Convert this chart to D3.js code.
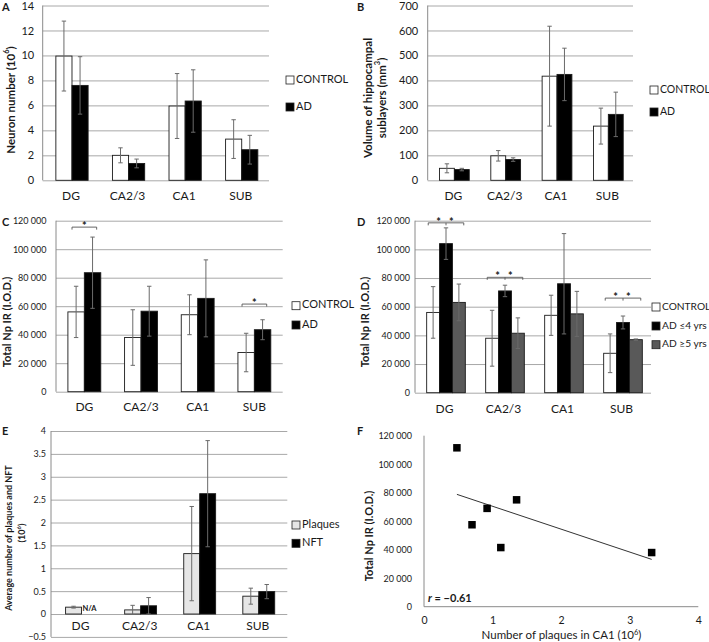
<!DOCTYPE html>
<html><head><meta charset="utf-8">
<script src="https://cdn.jsdelivr.net/npm/d3@7"></script>
<style>
body{margin:0;background:#fff}
text{font-family:Lato,"Open Sans","Liberation Sans",sans-serif;fill:#1a1a1a}
</style>
</head><body>
<svg id="chart" width="709" height="642"></svg>
<script>
// ---------- DATA ----------
const categories = ["DG", "CA2/3", "CA1", "SUB"];

// Panel A: neuron number (10^6)
const neuronTicks = [0, 2, 4, 6, 8, 10, 12, 14];
const neuronControl = [9.95, 2.0, 5.95, 3.3];
const neuronControlErr = [2.8, 0.6, 2.6, 1.55];
const neuronAD = [7.6, 1.35, 6.35, 2.45];
const neuronADErr = [2.3, 0.35, 2.5, 1.15];

// Panel B: volume (mm^3)
const volumeTicks = [0, 100, 200, 300, 400, 500, 600, 700];
const volumeControl = [48, 98, 417, 217];
const volumeControlErr = [18, 21, 200, 72];
const volumeAD = [43, 83, 424, 264];
const volumeADErr = [5, 7, 105, 89];

// Panel C: total Np IR
const npTicks = [0, 20000, 40000, 60000, 80000, 100000, 120000];
const npControl = [56000, 38000, 54000, 27500];
const npControlErr = [18000, 19500, 14000, 13500];
const npAD = [83500, 56500, 65500, 43500];
const npADErr = [25000, 17500, 27000, 7000];
const sigC = [{cat: "DG", level: 115500}, {cat: "SUB", level: 61500}];

// Panel D: AD split by duration
const npAD4 = [104000, 71000, 76000, 49000];
const npAD4Err = [11000, 4000, 35000, 4500];
const npAD5 = [63000, 41500, 55000, 37000];
const npAD5Err = [12800, 10700, 15700, 500];
const sigD = [{cat: "DG", level: 118500}, {cat: "CA2/3", level: 80500}, {cat: "SUB", level: 66000}];

// Panel E: plaques and NFT (10^6)
const lesionTicks = [-0.5, 0, 0.5, 1, 1.5, 2, 2.5, 3, 3.5, 4];
const plaques = [0.15, 0.09, 1.32, 0.39];
const plaquesErr = [0.02, 0.1, 1.03, 0.175];
const nft = [null, 0.18, 2.63, 0.49];
const nftErr = [null, 0.18, 1.16, 0.155];

// Panel F: scatter
const plaquesCA1 = [0.48, 0.70, 0.92, 1.12, 1.35, 3.32];
const npCA1 = [111500, 57500, 69000, 41500, 75000, 38000];
const fXTicks = [0, 1, 2, 3, 4];
const rLabel = "−0.61";

// ---------- DRAWING ----------
const svg = d3.select("#chart");
svg.append("rect").attr("width", 709).attr("height", 642).attr("fill", "#fff");
const gridColor = "#a8a8a8";
const axisColor = "#8a8a8a";
const errColor = "#6a6a6a";
const spaceFmt = d => d3.format(",")(d).replace(/,/g, " ");

function rotatedTitle(g, x, y, size, parts) {
  const t = g.append("text").attr("transform", `translate(${x},${y}) rotate(-90)`)
    .attr("text-anchor", "middle").attr("font-weight", "bold").attr("font-size", size)
    .attr("dominant-baseline", "middle");
  parts.forEach(p => {
    const ts = t.append("tspan").text(p.t);
    if (p.sup) ts.attr("baseline-shift", "super").attr("font-size", size * 0.65);
  });
  return t;
}

function legend(g, x, ys, items, size) {
  items.forEach((it, i) => {
    g.append("rect").attr("x", x).attr("y", ys[i] - 4).attr("width", 8).attr("height", 8)
      .attr("fill", it.fill).attr("stroke", "#222").attr("stroke-width", 0.8);
    g.append("text").attr("x", x + 10).attr("y", ys[i]).attr("dominant-baseline", "middle")
      .attr("font-size", size).text(it.name);
  });
}

function letter(x, y, t) {
  svg.append("text").attr("x", x).attr("y", y).attr("font-weight", "bold").attr("font-size", 11).text(t);
}

function barPanel(cfg) {
  const g = svg.append("g");
  const y = d3.scaleLinear().domain(cfg.yDomain).range([cfg.bottom, cfg.top]);
  const x = d3.scaleBand().domain(categories).range([cfg.left, cfg.right]);
  const groupW = x.bandwidth() * cfg.groupFrac;
  const xs = d3.scaleBand().domain(d3.range(cfg.series.length)).range([0, groupW]);
  const barX = (cat, si) => x(cat) + (x.bandwidth() - groupW) / 2 + xs(si) + cfg.shift;

  const ga = g.append("g").attr("transform", `translate(${cfg.left},0)`)
    .call(d3.axisLeft(y).tickValues(cfg.yTicks).tickSize(-(cfg.right - cfg.left))
      .tickPadding(cfg.tickPad).tickFormat(cfg.fmt || (d => d)));
  ga.select(".domain").remove();
  ga.attr("font-family", null);
  ga.selectAll(".tick line").attr("stroke", gridColor).attr("stroke-width", 1);
  ga.selectAll(".tick text").attr("font-size", cfg.tickFont);
  g.append("line").attr("x1", cfg.left).attr("x2", cfg.left).attr("y1", cfg.top).attr("y2", cfg.bottom)
    .attr("stroke", axisColor);

  cfg.series.forEach((s, si) => {
    categories.forEach((cat, i) => {
      const v = s.values[i];
      if (v === null) return;
      g.append("rect").attr("x", barX(cat, si)).attr("width", xs.bandwidth())
        .attr("y", y(Math.max(v, 0))).attr("height", Math.abs(y(v) - y(0)))
        .attr("fill", s.fill).attr("stroke", "#1a1a1a").attr("stroke-width", 0.9);
    });
  });
  cfg.series.forEach((s, si) => {
    categories.forEach((cat, i) => {
      const v = s.values[i], e = s.errs[i];
      if (v === null) return;
      const cx = barX(cat, si) + xs.bandwidth() / 2;
      const eg = g.append("g").attr("stroke", errColor).attr("stroke-width", 1);
      eg.append("line").attr("x1", cx).attr("x2", cx).attr("y1", y(v - e)).attr("y2", y(v + e));
      [v - e, v + e].forEach(w => eg.append("line").attr("x1", cx - 2.2).attr("x2", cx + 2.2)
        .attr("y1", y(w)).attr("y2", y(w)));
    });
  });

  const gx = g.append("g").attr("transform", `translate(0,${y(0)})`)
    .call(d3.axisBottom(x).tickSize(0).tickPadding(cfg.catPad));
  gx.select(".domain").remove();
  gx.attr("font-family", null);
  gx.selectAll(".tick text").attr("font-size", cfg.catFont);

  // significance brackets
  (cfg.sig || []).forEach(b => {
    const n = cfg.series.length, bw = xs.bandwidth();
    const x1 = barX(b.cat, 0) + bw * cfg.sigInset, x2 = barX(b.cat, n - 1) + bw * (1 - cfg.sigInset);
    const yy = y(b.level);
    const bg = g.append("g").attr("stroke", "#555").attr("stroke-width", 0.9).attr("fill", "none");
    bg.append("path").attr("d", `M${x1},${yy + 2.5}V${yy}H${x2}V${yy + 2.5}`);
    if (n === 2) {
      g.append("text").attr("x", (x1 + x2) / 2).attr("y", yy + 3).attr("text-anchor", "middle")
        .attr("font-size", 11).attr("font-weight", "bold").text("*");
    } else {
      const mid = barX(b.cat, 1) + bw / 2;
      bg.append("line").attr("x1", mid).attr("x2", mid).attr("y1", yy).attr("y2", yy + 2.5);
      [barX(b.cat, 1), barX(b.cat, 2)].forEach(sx =>
        g.append("text").attr("x", sx - 1).attr("y", yy + 3).attr("text-anchor", "middle")
          .attr("font-size", 11).attr("font-weight", "bold").text("*"));
    }
  });
  return {g, x, y, xs, barX};
}

// Panel A
letter(2, 11, "A");
const pA = barPanel({
  left: 42.7, right: 269, top: 5.5, bottom: 180.3, yDomain: [0, 14], yTicks: neuronTicks,
  tickPad: 8.5, tickFont: 11, catFont: 12, catPad: 11, groupFrac: 0.57, shift: 1,
  series: [
    {name: "CONTROL", values: neuronControl, errs: neuronControlErr, fill: "#fff"},
    {name: "AD", values: neuronAD, errs: neuronADErr, fill: "#000"}]
});
legend(pA.g, 286, [80, 107], [{name: "CONTROL", fill: "#fff"}, {name: "AD", fill: "#000"}], 11);
rotatedTitle(pA.g, 12, 100, 11.5, [{t: "Neuron number (10"}, {t: "6", sup: true}, {t: ")"}]);

// Panel B
letter(357, 11, "B");
const pB = barPanel({
  left: 427.7, right: 633, top: 5.5, bottom: 180.3, yDomain: [0, 700], yTicks: volumeTicks,
  tickPad: 9.5, tickFont: 11, catFont: 12, catPad: 11, groupFrac: 0.58, shift: 1,
  series: [
    {name: "CONTROL", values: volumeControl, errs: volumeControlErr, fill: "#fff"},
    {name: "AD", values: volumeAD, errs: volumeADErr, fill: "#000"}]
});
legend(pB.g, 650, [90, 112], [{name: "CONTROL", fill: "#fff"}, {name: "AD", fill: "#000"}], 10.5);
rotatedTitle(pB.g, 369, 98, 11.5, [{t: "Volume of hippocampal"}]);
rotatedTitle(pB.g, 383, 98, 11.5, [{t: "sublayers (mm"}, {t: "3", sup: true}, {t: ")"}]);

// Panel C
letter(2, 226, "C");
const pC = barPanel({
  left: 56, right: 282.7, top: 220.7, bottom: 391.7, yDomain: [0, 120000], yTicks: npTicks,
  tickPad: 9.5, tickFont: 9, catFont: 12, catPad: 11, groupFrac: 0.58, shift: 0, fmt: spaceFmt,
  series: [
    {name: "CONTROL", values: npControl, errs: npControlErr, fill: "#fff"},
    {name: "AD", values: npAD, errs: npADErr, fill: "#000"}],
  sig: sigC, sigInset: 0.25
});
legend(pC.g, 292, [305.7, 325], [{name: "CONTROL", fill: "#fff"}, {name: "AD", fill: "#000"}], 11);
rotatedTitle(pC.g, 8, 322, 11, [{t: "Total Np IR (I.O.D.)"}]);

// Panel D
letter(357, 226, "D");
const pD = barPanel({
  left: 415, right: 651, top: 220.7, bottom: 392.7, yDomain: [0, 120000], yTicks: npTicks,
  tickPad: 5, tickFont: 9, catFont: 12, catPad: 12, groupFrac: 0.655, shift: 1.5, fmt: spaceFmt,
  series: [
    {name: "CONTROL", values: npControl, errs: npControlErr, fill: "#fff"},
    {name: "AD ≤4 yrs", values: npAD4, errs: npAD4Err, fill: "#000"},
    {name: "AD ≥5 yrs", values: npAD5, errs: npAD5Err, fill: "#595959"}],
  sig: sigD, sigInset: 0.12
});
legend(pD.g, 652, [307, 326, 344.7], [
  {name: "CONTROL", fill: "#fff"}, {name: "AD ≤4 yrs", fill: "#000"}, {name: "AD ≥5 yrs", fill: "#595959"}], 10.2);
rotatedTitle(pD.g, 366, 322, 11, [{t: "Total Np IR (I.O.D.)"}]);

// Panel E
letter(2, 435, "E");
const pE = barPanel({
  left: 51, right: 287.3, top: 431, bottom: 636.9, yDomain: [-0.5, 4], yTicks: lesionTicks,
  tickPad: 5, tickFont: 9, catFont: 12, catPad: 7.5, groupFrac: 0.54, shift: 1,
  fmt: d => d < 0 ? "−" + Math.abs(d) : d,
  series: [
    {name: "Plaques", values: plaques, errs: plaquesErr, fill: "#e6e6e6"},
    {name: "NFT", values: nft, errs: nftErr, fill: "#000"}]
});
legend(pE.g, 292, [525, 543.3], [{name: "Plaques", fill: "#e6e6e6"}, {name: "NFT", fill: "#000"}], 11);
pE.g.append("text").attr("x", pE.barX("DG", 1) + 1).attr("y", pE.y(0) - 3).attr("font-size", 7.5)
  .attr("font-weight", "bold").text("N/A");
rotatedTitle(pE.g, 10, 538, 9, [{t: "Average number of plaques  and NFT"}]);
rotatedTitle(pE.g, 23, 533, 9, [{t: "(10"}, {t: "6", sup: true}, {t: ")"}]);

// Panel F
letter(357, 435, "F");
(function () {
  const g = svg.append("g");
  const left = 424, right = 698.3, top = 435.7, bottom = 606.7;
  const x = d3.scaleLinear().domain([0, 4]).range([left, right]);
  const y = d3.scaleLinear().domain([0, 120000]).range([bottom, top]);
  const ga = g.append("g").attr("transform", `translate(${left},0)`)
    .call(d3.axisLeft(y).tickValues(npTicks).tickSize(0).tickPadding(12).tickFormat(spaceFmt));
  ga.select(".domain").remove(); ga.attr("font-family", null);
  ga.selectAll(".tick text").attr("font-size", 9);
  const gx = g.append("g").attr("transform", `translate(0,${bottom})`)
    .call(d3.axisBottom(x).tickValues(fXTicks).tickSize(0).tickPadding(10).tickFormat(d3.format("d")));
  gx.select(".domain").remove(); gx.attr("font-family", null);
  gx.selectAll(".tick text").attr("font-size", 10.5);
  g.append("line").attr("x1", left).attr("x2", left).attr("y1", top).attr("y2", bottom).attr("stroke", axisColor);
  g.append("line").attr("x1", left).attr("x2", right).attr("y1", bottom).attr("y2", bottom).attr("stroke", axisColor);

  // linear regression from the points
  const mx = d3.mean(plaquesCA1), my = d3.mean(npCA1);
  let sxy = 0, sxx = 0;
  plaquesCA1.forEach((v, i) => { sxy += (v - mx) * (npCA1[i] - my); sxx += (v - mx) ** 2; });
  const slope = sxy / sxx, icpt = my - slope * mx;
  const [xa, xb] = d3.extent(plaquesCA1);
  g.append("line").attr("x1", x(xa)).attr("x2", x(xb)).attr("y1", y(icpt + slope * xa)).attr("y2", y(icpt + slope * xb))
    .attr("stroke", "#333").attr("stroke-width", 1);

  const s = 7.5;
  plaquesCA1.forEach((v, i) => {
    g.append("rect").attr("x", x(v) - s / 2).attr("y", y(npCA1[i]) - s / 2).attr("width", s).attr("height", s)
      .attr("fill", "#000");
  });
  const rt = g.append("text").attr("x", left + 4).attr("y", 601.5).attr("font-size", 11).attr("font-weight", "bold");
  rt.append("tspan").attr("font-style", "italic").text("r");
  rt.append("tspan").text(" = " + rLabel);

  const xt = g.append("text").attr("x", 561.5).attr("y", 639).attr("text-anchor", "middle").attr("font-size", 11.5);
  xt.append("tspan").text("Number of plaques  in CA1 (10");
  xt.append("tspan").attr("baseline-shift", "super").attr("font-size", 7.5).text("6");
  xt.append("tspan").text(")");
  rotatedTitle(g, 370, 536, 11, [{t: "Total Np IR (I.O.D.)"}]);
})();
</script>
</body></html>
